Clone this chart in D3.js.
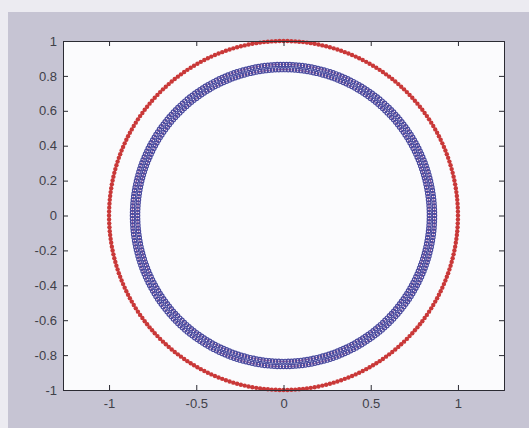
<!DOCTYPE html>
<html>
<head>
<meta charset="utf-8">
<script src="https://cdn.jsdelivr.net/npm/d3@7"></script>
<style>
  html, body { margin: 0; padding: 0; background: #ecebf1; }
  svg { display: block; }
  .tick text { font-family: "Liberation Sans", Arial, sans-serif; font-size: 13px; fill: #404048; }
</style>
</head>
<body>
<svg id="chart" width="529" height="428"></svg>
<script>
// Boundary curves: outer red boundary nodes and the inner (doubled) collocation rings
const outerRadius = [1.0];
const outerNodes = [280];
const innerRadii = [0.866, 0.836];
const innerNodes = [300, 290];

// Axis limits and ticks
const xDomain = [-1.264, 1.264];
const yDomain = [-1, 1];
const xTicks = [-1, -0.5, 0, 0.5, 1];
const yTicks = [-1, -0.8, -0.6, -0.4, -0.2, 0, 0.2, 0.4, 0.6, 0.8, 1];

const svg = d3.select("#chart");
const W = 529, H = 428;
const plot = { left: 63, right: 504, top: 41, bottom: 390 };

// figure background
svg.append("rect").attr("x", 8).attr("y", 12).attr("width", W - 8).attr("height", H - 12)
  .attr("fill", "#c6c4d3");

const x = d3.scaleLinear().domain(xDomain).range([plot.left, plot.right]);
const y = d3.scaleLinear().domain(yDomain).range([plot.bottom, plot.top]);

svg.append("rect")
  .attr("x", plot.left).attr("y", plot.top)
  .attr("width", plot.right - plot.left).attr("height", plot.bottom - plot.top)
  .attr("fill", "#fbfbfd");

function ring(r, n) {
  return d3.range(n).map(i => {
    const t = 2 * Math.PI * i / n;
    return [r * Math.cos(t), r * Math.sin(t)];
  });
}

const line = d3.line().x(d => x(d[0])).y(d => y(d[1])).curve(d3.curveLinearClosed);

// outer boundary: red line with filled dots
outerRadius.forEach((r, k) => {
  const pts = ring(r, outerNodes[k]);
  svg.append("path").attr("d", line(pts)).attr("fill", "none")
    .attr("stroke", "#cc3b3b").attr("stroke-width", 1);
  svg.append("g").selectAll("circle").data(pts).join("circle")
    .attr("cx", d => x(d[0])).attr("cy", d => y(d[1])).attr("r", 2.2)
    .attr("fill", "#c93838");
});

// inner rings: magenta line with open blue circles
innerRadii.forEach((r, k) => {
  const pts = ring(r, innerNodes[k]);
  svg.append("path").attr("d", line(pts)).attr("fill", "none")
    .attr("stroke", "#b0488a").attr("stroke-width", 1);
  svg.append("g").selectAll("circle").data(pts).join("circle")
    .attr("cx", d => x(d[0])).attr("cy", d => y(d[1])).attr("r", 2.1)
    .attr("fill", "none").attr("stroke", "#4a4a9e").attr("stroke-width", 1.2);
});

// axes (MATLAB-style box with inward ticks)
const axCol = "#2b2b33";
const fmt = d => String(+(+d).toFixed(1));
const gx = svg.append("g").attr("transform", `translate(0,${plot.bottom})`)
  .call(d3.axisBottom(x).tickValues(xTicks).tickSize(-5).tickPadding(9).tickFormat(fmt));
const gy = svg.append("g").attr("transform", `translate(${plot.left},0)`)
  .call(d3.axisLeft(y).tickValues(yTicks).tickSize(-5).tickPadding(6).tickFormat(fmt));
const gxt = svg.append("g").attr("transform", `translate(0,${plot.top})`)
  .call(d3.axisTop(x).tickValues(xTicks).tickSize(-5).tickFormat(""));
const gyr = svg.append("g").attr("transform", `translate(${plot.right},0)`)
  .call(d3.axisRight(y).tickValues(yTicks).tickSize(-5).tickFormat(""));
[gx, gy, gxt, gyr].forEach(g => {
  g.select(".domain").attr("stroke", axCol).attr("stroke-width", 1);
  g.selectAll(".tick line").attr("stroke", axCol);
});
</script>
</body>
</html>
